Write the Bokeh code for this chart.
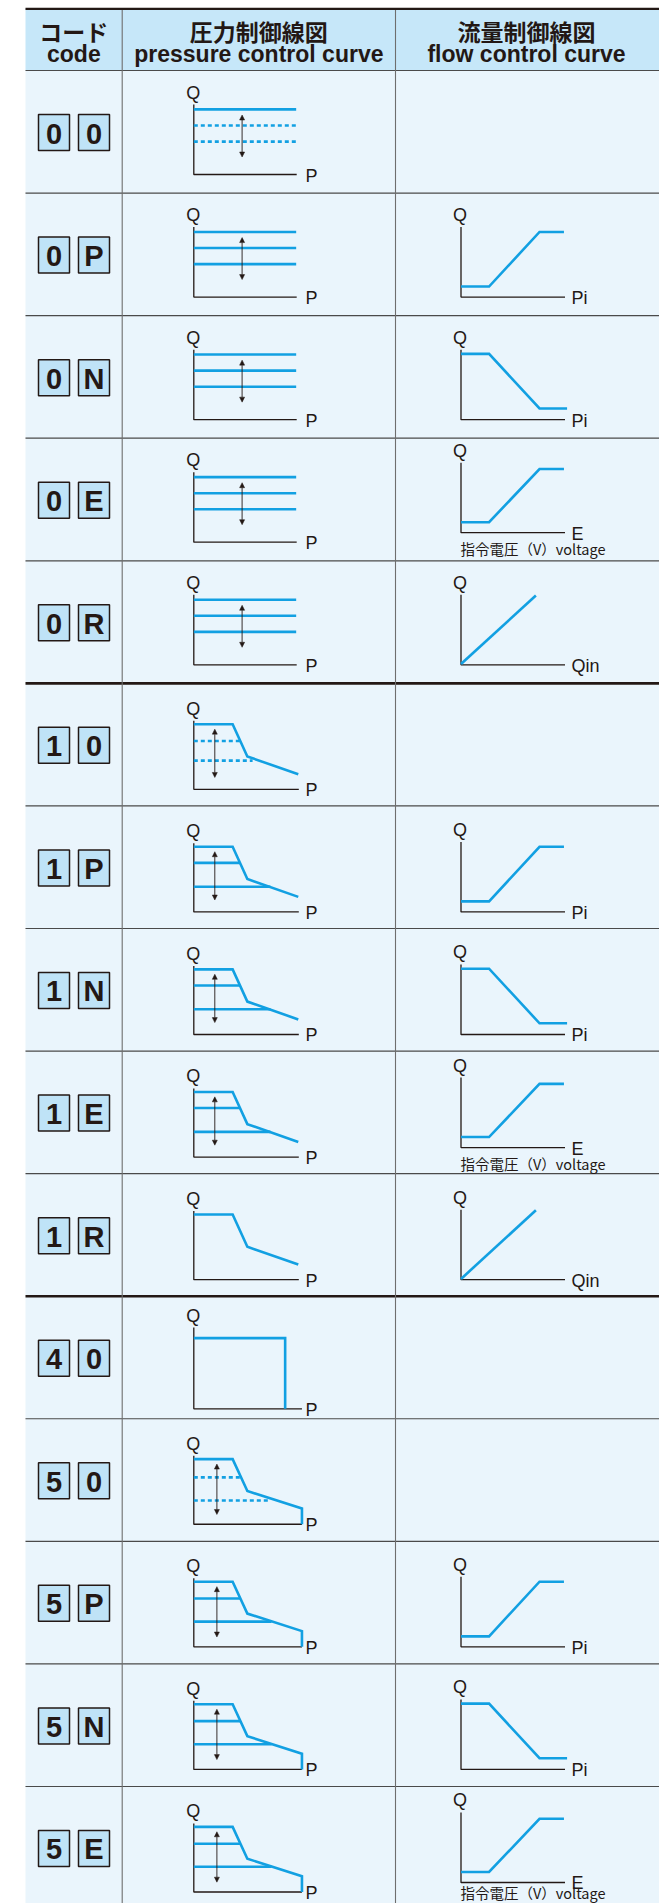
from bokeh.plotting import figure
from bokeh.models import Range1d, ColumnDataSource, Arrow, NormalHead
from bokeh.core.properties import value
from bokeh.embed import file_html
from bokeh.resources import INLINE

# ---------------- data ----------------
codes = ["00", "0P", "0N", "0E", "0R", "10", "1P", "1N", "1E", "1R",
         "40", "50", "5P", "5N", "5E"]
header_ja = ["コード", "圧力制御線図", "流量制御線図"]
header_en = ["code", "pressure control curve", "flow control curve"]
adjust_style = ["dotted", "solid", "solid", "solid", "solid",
                "dotted", "solid", "solid", "solid", "none",
                "none", "dotted", "solid", "solid", "solid"]

# pressure control curve (P %, Q %) by first code digit
press_curve_p = {"0": [0, 97.5], "1": [0, 37, 51, 99.5],
                 "4": [0, 87, 87], "5": [0, 37, 51, 103, 103]}
press_curve_q = {"0": [93, 93], "1": [93, 93, 47, 21.5],
                 "4": [101, 101, 0], "5": [93, 93, 47.5, 22.5, 0]}
# lower settings of the adjustable pressure (Q level, P where the line stops)
adjust_q_solid = {"0": [70, 47], "1": [70, 36], "5": [69, 36]}
adjust_p_solid = {"0": [97.5, 97.5], "1": [44, 73], "5": [44, 74]}
adjust_q_dotted = {"0": [70, 47], "1": [69, 41], "5": [67, 34]}
adjust_p_dotted = {"0": [97.5, 97.5], "1": [44, 56], "5": [44, 72]}
arrow_p = {"0": 46, "1": 20, "5": 22}
arrow_q = {"0": [85, 25], "1": [86, 17], "5": [86, 14]}
press_axis_p = {"0": 98, "1": 100, "4": 103, "5": 103}
press_axis_q = {"0": 100, "1": 98, "4": 116, "5": 98}

# flow control curve (Pi %, Q %) by second code letter
flow_curve_p = {"P": [0, 27, 75.5, 99], "N": [0, 27, 75.5, 102],
                "E": [0, 27, 75.5, 99], "R": [0, 72]}
flow_curve_q = {"P": [15, 15, 93, 93], "N": [94, 94, 16, 16],
                "E": [15, 15, 91, 91], "R": [1, 99]}
flow_axis_q = 100
flow_axis_p = 100
flow_x_label = {"P": "Pi", "N": "Pi", "E": "E", "R": "Qin"}
e_note = "指令電圧（V）voltage"

# ---------------- layout ----------------
W, H = 659, 1903
TABLE_L, PAGE_R, PAGE_B = 25, 659, 1903
COL1, COL2 = 121.7, 395.0
HEAD_TOP, HEAD_BOT = 8, 70
ROW_H = 122.57
THICK_BEFORE = {5, 10}
PRESS_X0, FLOW_X0 = 193.3, 460.5
SX_PRESS, SX_FLOW, SY = 1.05, 1.04, 0.7
press_base = {"0": 104, "1": 106, "4": 112.6, "5": 105.5}

INK = "#231815"
BLUE = "#12a0e2"
HEAD_BG = "#c6e7f9"
ROW_BG = "#eaf5fc"
BOX_BG = "#bfe3f7"

p = figure(width=W, height=H, x_range=Range1d(0, W), y_range=Range1d(H, 0),
           output_backend="svg", toolbar_location=None, min_border=0,
           x_axis_type=None, y_axis_type=None, outline_line_color=None,
           background_fill_color="white", border_fill_color="white")

row_tops = [HEAD_BOT + i * ROW_H for i in range(len(codes))]

# backgrounds
p.quad(left=[TABLE_L, TABLE_L], right=[PAGE_R, PAGE_R], top=[HEAD_TOP, HEAD_BOT],
       bottom=[HEAD_BOT, PAGE_B], fill_color=[HEAD_BG, ROW_BG], line_color=None)

# grid lines
thin_xs, thin_ys, thick_xs, thick_ys = [], [], [], []
for i, t in enumerate(row_tops):
    if i in THICK_BEFORE:
        thick_xs.append([TABLE_L, PAGE_R]); thick_ys.append([t, t])
    else:
        thin_xs.append([TABLE_L, PAGE_R]); thin_ys.append([t, t])
p.multi_line(thin_xs, thin_ys, line_color="#4a4a4a", line_width=1.2)
p.multi_line(thick_xs, thick_ys, line_color=INK, line_width=2.6)
p.multi_line([[COL1, COL1], [COL2, COL2]], [[HEAD_TOP, PAGE_B], [HEAD_TOP, PAGE_B]],
             line_color="#6e6e6e", line_width=1.1)
p.line([TABLE_L, PAGE_R], [HEAD_TOP + 0.3, HEAD_TOP + 0.3], line_color=INK, line_width=2.2)

# header text
col_centers = [(TABLE_L + COL1) / 2, (COL1 + COL2) / 2, (COL2 + PAGE_R) / 2 - 1]
p.text(x=col_centers, y=[30] * 3, text=header_ja, text_font=value("Noto Sans CJK JP"),
       text_font_size="23px", text_font_style="bold", text_align="center",
       text_baseline="middle", text_color=INK)
p.text(x=col_centers, y=[53] * 3, text=header_en, text_font=value("Liberation Sans"),
       text_font_size="23px", text_font_style="bold", text_align="center",
       text_baseline="middle", text_color=INK)

# code boxes
bx, by, bt = [], [], []
for code, t in zip(codes, row_tops):
    for k, ch in enumerate(code):
        bx.append(53.5 + 40 * k); by.append(t + 62); bt.append(ch)
p.rect(x=bx, y=by, width=31, height=36, fill_color=BOX_BG, line_color=INK, line_width=1.5)
p.text(x=bx, y=[v + 1 for v in by], text=bt, text_font=value("Liberation Sans"),
       text_font_size="29px", text_font_style="bold", text_align="center",
       text_baseline="middle", text_color=INK)

# charts
axis_xs, axis_ys = [], []
curve_xs, curve_ys = [], []
solid_xs, solid_ys, dot_xs, dot_ys = [], [], [], []
arr = dict(x=[], y0=[], y1=[])
q_x, q_y = [], []
lab_x, lab_y, lab_t = [], [], []
note_x, note_y, note_t = [], [], []

for i, (code, t) in enumerate(zip(codes, row_tops)):
    kind, fkind = code[0], code[1]
    base = t + press_base[kind]
    top = base - press_axis_q[kind] * SY
    axis_xs.append([PRESS_X0, PRESS_X0, PRESS_X0 + press_axis_p[kind] * SX_PRESS])
    axis_ys.append([top, base, base])
    q_x.append(PRESS_X0 - 0.5); q_y.append(top - 12)
    lab_x.append(305); lab_y.append(base + 1); lab_t.append("P")
    curve_xs.append([PRESS_X0 + v * SX_PRESS for v in press_curve_p[kind]])
    curve_ys.append([base - v * SY for v in press_curve_q[kind]])
    style = adjust_style[i]
    if style != "none":
        qs = adjust_q_solid[kind] if style == "solid" else adjust_q_dotted[kind]
        ps = adjust_p_solid[kind] if style == "solid" else adjust_p_dotted[kind]
        for qv, pv in zip(qs, ps):
            xs = [PRESS_X0, PRESS_X0 + pv * SX_PRESS]
            ys = [base - qv * SY] * 2
            if style == "solid":
                solid_xs.append(xs); solid_ys.append(ys)
            else:
                dot_xs.append(xs); dot_ys.append(ys)
        arr["x"].append(PRESS_X0 + arrow_p[kind] * SX_PRESS)
        arr["y0"].append(base - arrow_q[kind][0] * SY)
        arr["y1"].append(base - arrow_q[kind][1] * SY)
    if fkind in flow_curve_p:
        fbase = base - (9.5 if fkind == "E" else 0)
        ftop = fbase - flow_axis_q * SY
        axis_xs.append([FLOW_X0, FLOW_X0, FLOW_X0 + flow_axis_p * SX_FLOW])
        axis_ys.append([ftop, fbase, fbase])
        q_x.append(FLOW_X0 - 1); q_y.append(ftop - 12)
        lab_x.append(571); lab_y.append(fbase + 1); lab_t.append(flow_x_label[fkind])
        curve_xs.append([FLOW_X0 + v * SX_FLOW for v in flow_curve_p[fkind]])
        curve_ys.append([fbase - v * SY for v in flow_curve_q[fkind]])
        if fkind == "E":
            note_x.append(FLOW_X0 - 0.5)
            note_y.append(min(fbase + 15.5, H - 11))
            note_t.append(e_note)

p.multi_line(axis_xs, axis_ys, line_color=INK, line_width=1.3)
p.multi_line(solid_xs, solid_ys, line_color=BLUE, line_width=2.6)
p.multi_line(dot_xs, dot_ys, line_color=BLUE, line_width=2.6, line_dash="4 3")
p.multi_line(curve_xs, curve_ys, line_color=BLUE, line_width=2.6, line_join="miter")

src = ColumnDataSource(arr)
p.add_layout(Arrow(x_start="x", y_start="y0", x_end="x", y_end="y1", source=src,
                   line_color=INK, line_width=0.9,
                   start=NormalHead(size=5, fill_color=INK, line_color=INK, line_width=0.5),
                   end=NormalHead(size=5, fill_color=INK, line_color=INK, line_width=0.5)))

p.text(x=q_x, y=q_y, text=["Q"] * len(q_x), text_font=value("Liberation Sans"),
       text_font_size="18px", text_align="center", text_baseline="middle", text_color=INK)
p.text(x=lab_x, y=lab_y, text=lab_t, text_font=value("Liberation Sans"),
       text_font_size="18px", text_align="left", text_baseline="middle", text_color=INK)
p.text(x=note_x, y=note_y, text=note_t, text_font=value("Noto Sans CJK JP"),
       text_font_size="14.5px", text_align="left", text_baseline="middle", text_color=INK)

open("out.html", "w").write(file_html(p, INLINE))
